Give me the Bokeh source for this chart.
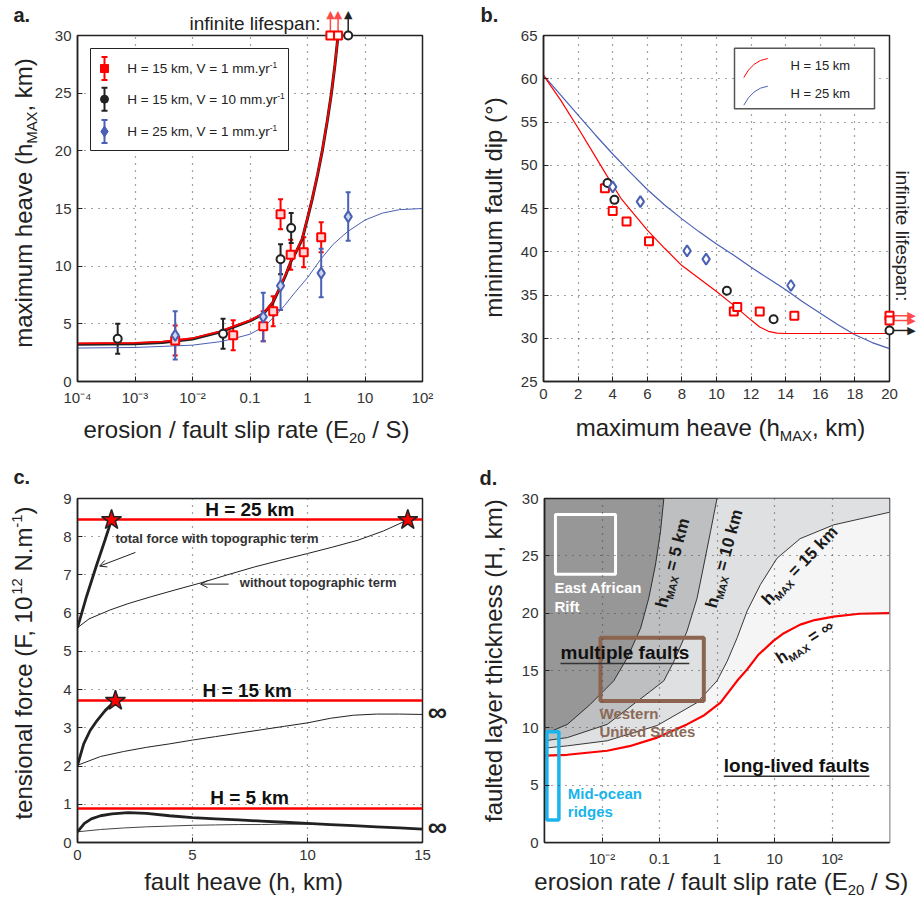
import math
from bokeh.plotting import figure
from bokeh.layouts import column, row
from bokeh.core.properties import value
from bokeh.models import (Range1d, LinearScale, Arrow, OpenHead, TeeHead,
                          Whisker, FixedTicker, CustomJSTickFormatter, ColumnDataSource)
from bokeh.embed import file_html
from bokeh.resources import INLINE

FONT = "Liberation Sans"
INK = "#222222"
RED = "#ff0000"
RED_ARROW = "#ff4a4a"
BLUE = "#4a60b4"

# ------------------------------------------------------------------ panel a data
a_xticks = [1e-4, 1e-3, 1e-2, 1e-1, 1, 10, 100]
a_xtick_labels = ["10⁻⁴", "10⁻³", "10⁻²", "0.1", "1", "10", "10²"]
a_yticks = [0, 5, 10, 15, 20, 25, 30]
a_xlim = (1e-4, 1e2)
a_ylim = (0, 30)

a_red_x = [0.005, 0.051, 0.17, 0.253, 0.34, 0.51, 0.86, 1.73]
a_red_y = [3.55, 4.0, 4.8, 6.1, 14.5, 11.0, 11.2, 12.5]
a_red_err = [1.3, 1.3, 1.3, 1.3, 1.3, 1.3, 1.3, 1.3]
a_red_inf_x = [2.5, 3.4]
a_black_x = [0.0005, 0.034, 0.34, 0.52]
a_black_y = [3.7, 4.13, 10.6, 13.3]
a_black_err = [1.3, 1.3, 1.3, 1.3]
a_black_inf_x = [5.1]
a_blue_x = [0.005, 0.17, 0.34, 1.73, 5.1]
a_blue_y = [4.0, 5.6, 8.3, 9.4, 14.3]
a_blue_err = [2.1, 2.1, 2.1, 2.1, 2.1]
a_inf_level = 30  # infinite lifespan plotted on the top edge

a_curve_x = [1e-4, 1e-3, 3e-3, 1e-2, 0.03, 0.05, 0.1, 0.17, 0.25, 0.34, 0.42, 0.51, 0.65,
             0.81, 0.9, 1.0, 1.2, 1.5, 1.8, 2.2, 2.6, 3.0, 3.4]
a_red_curve = [3.3, 3.35, 3.45, 3.75, 4.35, 4.75, 5.3, 5.9, 6.9, 8.3, 9.3, 10.4, 11.4,
               12.4, 13.3, 14.2, 15.8, 18.0, 20.0, 22.6, 25.0, 27.5, 30.0]
a_black_curve = [3.22, 3.27, 3.38, 3.68, 4.28, 4.7, 5.25, 5.86, 6.85, 8.25, 9.25, 10.35, 11.35,
                 12.35, 13.25, 14.15, 15.75, 17.95, 19.95, 22.55, 24.95, 27.45, 30.0]
a_blue_curve_x = [1e-4, 1e-3, 1e-2, 0.03, 0.05, 0.1, 0.18, 0.3, 0.4, 0.6, 1.0, 1.7, 2.8, 5.0,
                  10, 20, 40, 100]
a_blue_curve = [2.9, 2.95, 3.15, 3.45, 3.7, 4.1, 4.8, 5.9, 6.6, 7.7, 9.0, 10.6, 11.9, 13.0,
                14.0, 14.6, 14.9, 15.0]
a_legend_labels = ["H = 15 km, V = 1 mm.yr", "H = 15 km, V = 10 mm.yr", "H = 25 km, V = 1 mm.yr"]

# ------------------------------------------------------------------ panel b data
b_xticks = [0, 2, 4, 6, 8, 10, 12, 14, 16, 18, 20]
b_yticks = [25, 30, 35, 40, 45, 50, 55, 60, 65]
b_xlim = (0, 20)
b_ylim = (25, 65)
b_red_h = [3.55, 4.0, 4.8, 6.1, 11.0, 11.2, 12.5, 14.5]
b_red_dip = [47.35, 44.7, 43.5, 41.2, 33.1, 33.6, 33.1, 32.6]
b_red_inf_dip = [32.6, 32.05]
b_black_h = [3.7, 4.1, 10.6, 13.3]
b_black_dip = [47.95, 46.0, 35.5, 32.2]
b_black_inf_dip = [30.9]
b_blue_h = [4.0, 5.6, 8.3, 9.4, 14.3]
b_blue_dip = [47.5, 45.8, 40.1, 39.15, 36.1]
b_inf_h = 20  # infinite lifespan plotted on the right edge
b_red_curve_h = [0, 1, 2, 3, 3.6, 4.5, 6, 7, 8, 9, 10, 11, 12, 12.5, 13, 13.5, 14, 20]
b_red_curve = [60.4, 57.5, 54.3, 51.0, 49.0, 46.1, 42.5, 40.4, 38.4, 36.9, 35.4, 33.8, 32.1,
               31.3, 30.8, 30.6, 30.55, 30.55]
b_blue_curve_h = [0, 1, 2, 3, 4, 5, 6, 7, 8, 9, 10, 11, 12, 13, 14, 15, 16, 17, 18, 19, 20]
b_blue_curve = [60.4, 58.1, 55.8, 53.5, 51.3, 49.2, 47.2, 45.4, 43.8, 42.3, 40.9, 39.6, 38.2,
                36.9, 35.6, 34.2, 32.9, 31.6, 30.4, 29.5, 28.8]
b_legend_labels = ["H = 15 km", "H = 25 km"]

# ------------------------------------------------------------------ panel c data
c_xticks = [0, 5, 10, 15]
c_yticks = [0, 1, 2, 3, 4, 5, 6, 7, 8, 9]
c_xlim = (0, 15)
c_ylim = (0, 9)
c_H_labels = ["H = 25 km", "H = 15 km", "H = 5 km"]
c_Fmax = [8.44, 3.71, 0.88]
c_h25_topo_h = [0, 0.4, 0.8, 1.2, 1.48]
c_h25_topo_F = [5.62, 6.45, 7.2, 7.92, 8.44]
c_h25_h = [0, 0.5, 1.4, 2.2, 3.2, 4.2, 5.35, 6.5, 7.7, 8.8, 10, 11.1, 12.2, 13.3, 14.36]
c_h25_F = [5.62, 5.85, 6.08, 6.25, 6.43, 6.6, 6.79, 7.0, 7.21, 7.38, 7.56, 7.73, 7.91, 8.15, 8.44]
c_h15_topo_h = [0, 0.27, 0.55, 0.85, 1.2, 1.65]
c_h15_topo_F = [2.02, 2.58, 2.93, 3.19, 3.45, 3.71]
c_h15_h = [0, 1, 2, 3, 4, 5, 6, 7, 8, 9, 10, 11, 12, 13, 14, 15]
c_h15_F = [2.02, 2.25, 2.38, 2.49, 2.58, 2.68, 2.77, 2.86, 2.95, 3.04, 3.13, 3.25, 3.33, 3.36,
           3.36, 3.35]
c_h5_topo_h = [0, 0.3, 0.6, 1, 1.5, 2.2, 3, 4, 5, 6, 7, 8, 9, 10, 11, 12, 13, 14, 15]
c_h5_topo_F = [0.28, 0.5, 0.62, 0.70, 0.75, 0.78, 0.76, 0.70, 0.65, 0.62, 0.59, 0.56, 0.53, 0.50,
               0.47, 0.44, 0.41, 0.38, 0.35]
c_h5_h = [0, 1, 2, 3, 4, 5, 6, 7, 8, 9, 10, 11, 12, 13, 14, 15]
c_h5_F = [0.28, 0.34, 0.38, 0.41, 0.43, 0.45, 0.46, 0.47, 0.47, 0.48, 0.48, 0.47, 0.44, 0.41,
          0.38, 0.35]
c_star_h = [1.48, 14.36, 1.65]
c_star_F = [8.44, 8.44, 3.71]

# ------------------------------------------------------------------ panel d data
d_xticks = [1e-2, 1e-1, 1, 10, 100]
d_xtick_labels = ["10⁻²", "0.1", "1", "10", "10²"]
d_xgrid = [1e-2, 1e-1, 1, 10, 100, 1000]
d_yticks = [0, 5, 10, 15, 20, 25, 30]
d_xlim = (1e-3, 1e3)
d_ylim = (0, 30)
d5_x = [1e-3, 0.0025, 0.0063, 0.016, 0.0275, 0.047, 0.065, 0.085, 0.104, 0.119]
d5_H = [9.45, 10.3, 12.06, 14.1, 16.1, 18.7, 21.3, 24.2, 27.1, 30]
d10_x = [1e-3, 0.0025, 0.0123, 0.07, 0.119, 0.178, 0.30, 0.45, 0.59, 0.77, 1.0]
d10_H = [8.87, 9.15, 10.3, 13.2, 14.1, 15.8, 18.4, 21.3, 24.2, 27.1, 30]
d15_x = [1e-3, 0.0025, 0.0123, 0.091, 0.45, 1.0, 1.5, 2.24, 3.35, 5.7, 11.1, 28, 107, 1000]
d15_H = [8.23, 8.43, 8.87, 10.2, 12.2, 14.1, 15.8, 17.85, 20.2, 22.5, 24.8, 26.5, 27.7, 28.8]
dinf_x = [1e-3, 0.0025, 0.0123, 0.03, 0.091, 0.3, 0.6, 1.15, 2.24, 3.35, 5.3, 9.7, 14, 28, 50,
          107, 300, 1000]
dinf_H = [7.57, 7.65, 8.0, 8.4, 9.15, 10.3, 11.1, 12.2, 14.1, 15.1, 16.4, 17.6, 18.2, 19.0, 19.4,
          19.7, 19.95, 20.0]
d_shades = ["#979797", "#bebfc1", "#dfe0e2", "#f5f5f5", "#ffffff"]
# boxes: (left, right, bottom, top)
d_eaf_box = (0.00155, 0.0172, 23.4, 28.6)
d_wus_box = (0.0094, 0.59, 12.35, 17.85)
d_mor_box = (0.0011, 0.00178, 1.97, 9.65)

# ------------------------------------------------------------------ helpers
REG = {' ': 278, 'a': 556, 'b': 556, 'c': 500, 'd': 556, 'e': 556, 'f': 278, 'g': 556, 'h': 556,
       'i': 222, 'j': 222, 'k': 500, 'l': 222, 'm': 833, 'n': 556, 'o': 556, 'p': 556, 'q': 556,
       'r': 333, 's': 500, 't': 278, 'u': 556, 'v': 500, 'w': 722, 'x': 500, 'y': 500, 'z': 500,
       '(': 333, ')': 333, ',': 278, '.': 278, '/': 278, '-': 333, '=': 584, ':': 278, '°': 400,
       '∞': 713, 'A': 667, 'E': 667, 'F': 611, 'H': 722, 'M': 833, 'N': 722, 'S': 667, 'V': 667,
       'X': 667}
BOLD = {' ': 278, 'a': 556, 'b': 611, 'c': 556, 'd': 611, 'e': 556, 'f': 333, 'g': 611, 'h': 611,
        'i': 278, 'k': 556, 'l': 278, 'm': 889, 'n': 611, 'o': 611, 'p': 611, 'r': 389, 's': 556,
        't': 333, 'u': 611, 'v': 556, 'w': 778, 'x': 556, 'y': 556, '(': 333, ')': 333, '-': 333,
        '=': 584, '∞': 713, '.': 278, 'A': 722, 'E': 667, 'H': 722, 'M': 833, 'R': 722, 'S': 667,
        'U': 722, 'W': 944, 'X': 667}

FX = dict(x_range_name="fx", y_range_name="fy")
BASE_FIX = 0.33  # renderer places "alphabetic" text lower by about this fraction of the size


def text_width(s, size, bold=False):
    t = BOLD if bold else REG
    return sum(t.get(ch, 556) for ch in s) * size / 1000.0


def rich(p, x, y, parts, size, color=INK, bold=False, angle=0.0, align="center",
         anchor="baseline", small=0.62):
    """Place a text made of normal / sub / sup pieces; x, y in frame pixels."""
    if isinstance(parts, str):
        parts = [(parts, "n")]
    th = math.radians(angle)
    ux, uy = math.cos(th), math.sin(th)
    nx, ny = -math.sin(th), math.cos(th)
    laid, total = [], 0.0
    for txt, kind in parts:
        s = size if kind == "n" else size * small
        lead = len(txt) - len(txt.lstrip(" "))
        laid.append((txt.lstrip(" "), kind, s, total + text_width(" " * lead, s, bold)))
        total += text_width(txt, s, bold)
    start = {"center": -total / 2, "right": -total, "left": 0.0}[align]
    bx, by = x, y
    if anchor == "center":
        bx -= 0.35 * size * nx
        by -= 0.35 * size * ny
    for txt, kind, s, off in laid:
        shift = {"n": 0.0, "sub": -0.22 * size, "sup": 0.4 * size}[kind] + BASE_FIX * s
        px = bx + (start + off) * ux + shift * nx
        py = by + (start + off) * uy + shift * ny
        r = p.text(x=[px], y=[py], text=[txt], angle=th, text_font=value(FONT),
                   text_font_size=value(f"{s:.1f}px"),
                   text_font_style=value("bold" if bold else "normal"),
                   text_color=color, text_align="left", text_baseline="alphabetic", **FX)
        r.level = "overlay"
    return total


def make_fig(w, h, left, right, top, bottom, xr, yr, xtype="linear"):
    p = figure(width=w, height=h, x_range=Range1d(*xr), y_range=Range1d(*yr),
               x_axis_type=xtype, output_backend="svg", toolbar_location=None,
               min_border_left=left, min_border_right=right,
               min_border_top=top, min_border_bottom=bottom)
    fw, fh = w - left - right, h - top - bottom
    p.extra_x_ranges = {"fx": Range1d(0, fw)}
    p.extra_y_ranges = {"fy": Range1d(0, fh)}
    p.extra_x_scales = {"fx": LinearScale()}
    p.extra_y_scales = {"fy": LinearScale()}
    p.background_fill_color = "white"
    p.border_fill_color = "white"
    p.outline_line_color = INK
    p.outline_line_width = 1.5
    for ax in (p.xaxis[0], p.yaxis[0]):
        ax.axis_line_color = INK
        ax.axis_line_width = 1.5
        ax.major_tick_in = 5
        ax.major_tick_out = 0
        ax.major_tick_line_color = INK
        ax.minor_tick_line_color = None
        ax.major_label_text_font = FONT
        ax.major_label_text_font_size = "15px"
        ax.major_label_text_color = "#333333"
    p.xaxis[0].major_label_standoff = 7
    p.yaxis[0].major_label_standoff = 6
    for g in (p.xgrid[0], p.ygrid[0]):
        g.grid_line_color = "#444444"
        g.grid_line_dash = "1 6"
        g.grid_line_width = 1.2
    return p


def set_ticks(p, xt, yt, xgrid=None):
    p.xaxis.ticker = FixedTicker(ticks=xt)
    p.xgrid.ticker = FixedTicker(ticks=xgrid if xgrid is not None else xt)
    p.yaxis.ticker = FixedTicker(ticks=yt)
    p.ygrid.ticker = FixedTicker(ticks=yt)


def log_labels(tick_values, tick_labels):
    return CustomJSTickFormatter(args=dict(tv=tick_values, tl=tick_labels), code="""
        let best = 0, d = 1e9;
        for (let i = 0; i < tv.length; i++) {
            const e = Math.abs(Math.log10(tv[i]) - Math.log10(tick));
            if (e < d) { d = e; best = i; }
        }
        return tl[best];
    """)


def overlay(*renderers):
    for r in renderers:
        r.level = "overlay"


def head(p, xs, ys, glyph, color, x_off=0, y_off=0):
    """Arrow head drawn as a text glyph (text is never culled outside the frame)."""
    r = p.text(x=xs, y=ys, text=[glyph] * len(xs), text_font=value("DejaVu Sans"),
               text_font_size=value("11px"), text_color=color, text_align="center",
               text_baseline="middle", x_offset=x_off, y_offset=y_off)
    r.level = "overlay"


# ================================================================== panel a
pa = make_fig(460, 445, 77, 38, 35, 64, a_xlim, a_ylim, "log")
set_ticks(pa, a_xticks, a_yticks)
pa.xaxis.formatter = log_labels(a_xticks, a_xtick_labels)

pa.line(a_curve_x, a_black_curve, line_color=INK, line_width=3)
pa.line(a_curve_x, a_red_curve, line_color=RED, line_width=1.8)
pa.line(a_blue_curve_x, a_blue_curve, line_color=BLUE, line_width=1)

series_a = [
    (a_red_x, a_red_y, a_red_err, RED, "square", 8, "#ffd6d6"),
    (a_black_x, a_black_y, a_black_err, INK, "circle", 8, "white"),
    (a_blue_x, a_blue_y, a_blue_err, BLUE, "diamond", 11, "#cdd4ef"),
]
for xs, ys, es, col, mk, sz, fill in series_a:
    src = ColumnDataSource(dict(x=xs, y=ys, lo=[v - e for v, e in zip(ys, es)],
                                hi=[v + e for v, e in zip(ys, es)]))
    pa.add_layout(Whisker(base="x", lower="lo", upper="hi", dimension="height", source=src,
                          line_color=col, line_width=2,
                          upper_head=TeeHead(size=5, line_color=col, line_width=2),
                          lower_head=TeeHead(size=5, line_color=col, line_width=2)))
    pa.scatter("x", "y", source=src, marker=mk, size=sz, line_color=col, line_width=2,
               fill_color=fill)

for xs, col, mk, acol in [(a_red_inf_x, RED, "square", RED_ARROW),
                          (a_black_inf_x, INK, "circle", INK)]:
    n = len(xs)
    overlay(
        pa.segment(x0=xs, y0=[a_inf_level] * n, x1=xs, y1=[a_inf_level + 1.6] * n,
                   line_color=acol, line_width=1.5),
        pa.scatter(xs, [a_inf_level] * n, marker=mk, size=8, line_color=col, line_width=2,
                   fill_color="white"))
    head(pa, xs, [a_inf_level] * n, "▲", acol, y_off=-21)

# legend (frame pixel coordinates)
pa.quad(left=[13], right=[211], bottom=[231], top=[333], fill_color="white",
        line_color=INK, line_width=1, **FX)
leg_rows = [313, 282.3, 250]
leg_cols = [RED, INK, BLUE]
leg_marks = [("square", 8), ("circle", 8), ("diamond", 11)]
for yrow, col, (mk, sz), lab in zip(leg_rows, leg_cols, leg_marks, a_legend_labels):
    pa.segment(x0=[27], y0=[yrow - 11.5], x1=[27], y1=[yrow + 11.5], line_color=col,
               line_width=2, **FX)
    pa.scatter([27, 27], [yrow - 11.5, yrow + 11.5], marker="dash", size=6, line_color=col,
               line_width=2, **FX)
    pa.scatter([27], [yrow], marker=mk, size=sz, fill_color=col, line_color=col, **FX)
    rich(pa, 49.7, yrow - 4.7, [(lab, "n"), ("-1", "sup")], 13.5, color=INK, align="left")

rich(pa, 243, 351.7, "infinite lifespan:", 19, color=INK, align="right")
rich(pa, -64, 360.3, "a.", 20, color=INK, bold=True, align="left")
rich(pa, -46, 178.5, [("maximum heave (h", "n"), ("MAX", "sub"), (", km)", "n")], 24,
     angle=90)
rich(pa, 169, -55.7, [("erosion / fault slip rate (E", "n"), ("20", "sub"), (" / S)", "n")], 24)

# ================================================================== panel b
pb = make_fig(456, 445, 83, 27, 35, 64, b_xlim, b_ylim)
set_ticks(pb, b_xticks, b_yticks)
pb.line(b_blue_curve_h, b_blue_curve, line_color=BLUE, line_width=1.2)
pb.line(b_red_curve_h, b_red_curve, line_color=RED, line_width=1.2)
pb.scatter(b_red_h, b_red_dip, marker="square", size=8, line_color=RED, line_width=2,
           fill_color="white")
pb.scatter(b_black_h, b_black_dip, marker="circle", size=8, line_color=INK, line_width=2,
           fill_color="white")
pb.scatter(b_blue_h, b_blue_dip, marker="diamond", size=11, line_color=BLUE, line_width=2,
           fill_color="white")
for dips, col, mk, acol in [(b_red_inf_dip, RED, "square", RED_ARROW),
                            (b_black_inf_dip, INK, "circle", INK)]:
    n = len(dips)
    overlay(
        pb.segment(x0=[b_inf_h] * n, y0=dips, x1=[b_inf_h + 1.15] * n, y1=dips,
                   line_color=acol, line_width=1.5),
        pb.scatter([b_inf_h] * n, dips, marker=mk, size=8, line_color=col, line_width=2,
                   fill_color="white"))
    head(pb, [b_inf_h] * n, dips, "▶", acol, x_off=22)

pb.quad(left=[191], right=[331], bottom=[272.7], top=[333.3], fill_color="white",
        line_color="#555555", line_width=1.5, **FX)
for yrow, col, lab in zip([316, 288.3], [RED, BLUE], b_legend_labels):
    pb.quadratic(x0=[200.3], y0=[yrow - 12], x1=[224.3], y1=[yrow + 7], cx=[209], cy=[yrow + 5],
                 line_color=col, line_width=1, **FX)
    rich(pb, 247, yrow - 4.5, lab, 13, color=INK, align="left")

rich(pb, 352.5, 211, "infinite lifespan:", 19, color=INK, angle=-90, align="left")
rich(pb, -63, 360.3, "b.", 20, color=INK, bold=True, align="left")
rich(pb, -42, 174, "minimum fault dip (°)", 24, angle=90)
rich(pb, 177, -54, [("maximum heave (h", "n"), ("MAX", "sub"), (", km)", "n")], 24)

# ================================================================== panel c
pc = make_fig(460, 453, 77, 38, 53, 55, c_xlim, c_ylim)
set_ticks(pc, c_xticks, c_yticks)
pc.hspan(y=c_Fmax, line_color=RED, line_width=2.5)
pc.line(c_h25_h, c_h25_F, line_color=INK, line_width=1)
pc.line(c_h15_h, c_h15_F, line_color=INK, line_width=1)
pc.line(c_h5_h, c_h5_F, line_color="#444444", line_width=1)
pc.line(c_h25_topo_h, c_h25_topo_F, line_color=INK, line_width=2.8)
pc.line(c_h15_topo_h, c_h15_topo_F, line_color=INK, line_width=2.8)
pc.line(c_h5_topo_h, c_h5_topo_F, line_color=INK, line_width=2.8)
pc.scatter(c_star_h, c_star_F, marker="star", size=21, fill_color=RED, line_color=INK,
           line_width=1.5)

for (fx, fy), lab in zip([(172.3, 327.3), (169.7, 146.3), (172, 39)], c_H_labels):
    rich(pc, fx, fy, lab, 19, color="#111111", bold=True)
rich(pc, 38, 300.3, "total force with topographic term", 13, color="#333333", bold=True,
     align="left")
rich(pc, 162.3, 256.3, "without topographic term", 13, color="#333333", bold=True, align="left")
pc.add_layout(Arrow(x_start=2.52, y_start=7.59, x_end=0.96, y_end=7.23, line_color=INK,
                    line_width=1, end=OpenHead(size=7, line_color=INK, line_width=1)))
pc.add_layout(Arrow(x_start=6.57, y_start=6.76, x_end=5.35, y_end=6.76, line_color=INK,
                    line_width=1, end=OpenHead(size=7, line_color=INK, line_width=1)))
rich(pc, 360, 122, "∞", 27, color=INK, bold=True)
rich(pc, 360, 7, "∞", 27, color=INK, bold=True)
rich(pc, -64, 359.7, "c.", 20, color=INK, bold=True, align="left")
rich(pc, -46, 180, [("tensional force (F, 10", "n"), ("12", "sup"), (" N.m", "n"), ("-1", "sup"),
                    (")", "n")], 24, angle=90)
rich(pc, 166, -47, "fault heave (h, km)", 24)

# ================================================================== panel d
pd_ = make_fig(456, 453, 84, 27, 52, 56, d_xlim, d_ylim, "log")
set_ticks(pd_, d_xticks, d_yticks, d_xgrid)
pd_.xaxis.formatter = log_labels(d_xticks, d_xtick_labels)
pd_.background_fill_color = d_shades[0]
x0, x1 = d_xlim
ytop = d_ylim[1]
regions = [(d5_x, d5_H, d_shades[1]), (d10_x, d10_H, d_shades[2]),
           (d15_x, d15_H, d_shades[3]), (dinf_x, dinf_H, d_shades[4])]
for xs, hs, col in regions:
    px = list(xs)
    py = list(hs)
    if xs[-1] < x1:
        px += [x1]
        py += [ytop]
    px += [x1, x0]
    py += [0, 0]
    pd_.patch(px, py, fill_color=col, line_color=None)
for xs, hs in [(d5_x, d5_H), (d10_x, d10_H), (d15_x, d15_H)]:
    pd_.line(xs, hs, line_color=INK, line_width=0.9)
pd_.line(dinf_x, dinf_H, line_color=RED, line_width=2.2)
pd_.xgrid.level = "annotation"
pd_.ygrid.level = "annotation"

for box, col, lw in [(d_eaf_box, "white", 3), (d_wus_box, "#8c6450", 4),
                     (d_mor_box, "#19b4ec", 3.5)]:
    pd_.quad(left=[box[0]], right=[box[1]], bottom=[box[2]], top=[box[3]], fill_alpha=0,
             line_color=col, line_width=lw)

rich(pd_, 10, 250.3, "East African", 15, color="white", bold=True, align="left")
rich(pd_, 10, 231.3, "Rift", 15, color="white", bold=True, align="left")
w1 = rich(pd_, 16, 184, "multiple faults", 19, color="#111111", bold=True, align="left")
pd_.segment(x0=[16], y0=[179.5], x1=[16 + w1], y1=[179.5], line_color="#333333",
            line_width=1.5, **FX)
rich(pd_, 55, 124.3, "Western", 15, color="#8a6a58", bold=True, align="left")
rich(pd_, 55, 106, "United States", 15, color="#8a6a58", bold=True, align="left")
w2 = rich(pd_, 179.3, 71, "long-lived faults", 19, color="#111111", bold=True, align="left")
pd_.segment(x0=[179.3], y0=[66.5], x1=[179.3 + w2], y1=[66.5], line_color="#333333",
            line_width=1.5, **FX)
rich(pd_, 23.3, 44.3, "Mid-ocean", 15, color="#19b4ec", bold=True, align="left")
rich(pd_, 23.3, 26, "ridges", 15, color="#19b4ec", bold=True, align="left")

for cx, cy, ang, tail in [(127.7, 280.3, 75.4, " = 5 km"), (179.3, 284.7, 74.8, " = 10 km"),
                          (255, 278, 46.3, " = 15 km"), (260, 201.3, 33.3, " = ∞")]:
    rich(pd_, cx, cy, [("h", "n"), ("MAX", "sub"), (tail, "n")], 17, color="#1a1a1a",
         bold=True, angle=ang, anchor="center")

rich(pd_, -65, 358.7, "d.", 20, color=INK, bold=True, align="left")
rich(pd_, -43, 182, "faulted layer thickness (H, km)", 24, angle=90)
rich(pd_, 176.8, -47, [("erosion rate / fault slip rate (E", "n"), ("20", "sub"), (" / S)", "n")],
     24)

layout = column(row(pa, pb), row(pc, pd_))
open("out.html", "w").write(file_html(layout, INLINE))
